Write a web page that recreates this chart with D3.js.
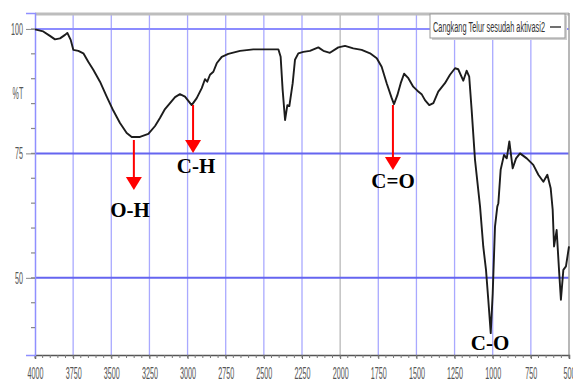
<!DOCTYPE html>
<html><head><meta charset="utf-8">
<script src="https://cdn.jsdelivr.net/npm/d3@7/dist/d3.min.js"></script>
<style>
html,body{margin:0;padding:0;background:#fff;}
svg{display:block;}
.tick-lab{font-family:"Liberation Sans",Arial,sans-serif;fill:#555;}
.ann{font-family:"Liberation Serif","Times New Roman",serif;font-weight:bold;fill:#000;}
</style></head>
<body>
<svg id="c" width="573" height="385"></svg>
<script>
// ---- data ----
const seriesName = "Cangkang Telur sesudah aktivasi2";
const wavenumber = [4000,3946,3902,3869,3836,3803,3788,3766,3749,3716,3683,3651,3618,3574,3530,3487,3443,3399,3366,3312,3257,3213,3181,3148,3082,3050,3017,2973,2940,2907,2886,2871,2853,2831,2809,2776,2733,2656,2569,2481,2405,2390,2377,2361,2346,2333,2311,2296,2274,2241,2198,2143,2110,2067,2012,1968,1914,1859,1804,1760,1728,1695,1662,1647,1625,1603,1581,1553,1521,1494,1466,1444,1416,1389,1357,1313,1280,1247,1226,1193,1171,1154,1138,1116,1083,1062,1044,1029,1013,1000,985,970,963,948,926,908,891,869,847,821,777,734,701,668,642,620,607,598,581,564,553,537,520,500];
const transmittance = [99.9,99.5,98.6,97.9,98.1,98.8,99.2,97.8,95.8,95.6,95.1,93.4,91.8,89.4,86.4,83.6,81.1,79.1,78.3,78.3,78.9,80.5,82.1,83.9,86.3,86.9,86.4,84.7,86.1,88.1,89.9,89.4,90.8,91.4,93.1,94.4,95.0,95.6,95.9,95.9,95.9,94.4,87.8,81.7,84.7,84.5,89.1,93.8,95.1,95.4,95.6,96.3,95.6,95.2,96.3,96.6,96.1,95.8,95.1,94.1,92.4,89.1,86.1,84.9,86.7,89.1,91.0,90.1,88.4,87.6,86.9,85.7,84.7,85.1,87.4,89.1,90.8,92.1,91.9,89.6,91.6,90.4,83.7,73.7,64.3,56.3,51.6,45.6,38.9,46.9,60.3,64.3,65.0,71.7,74.7,74.0,77.4,72.0,74.0,75.0,74.0,72.7,70.7,69.3,70.7,68.0,63.7,56.3,59.6,50.9,45.6,51.6,52.3,56.3];
const xTickValues = [4000,3750,3500,3250,3000,2750,2500,2250,2000,1750,1500,1250,1000,750,500];
const yTickValues = [100,75,50];
const annLabels = ["O-H","C-H","C=O","C-O"];
const annWavenumbers = [3352,2964,1654,1013];

// ---- layout ----
const svg = d3.select("#c");
const L = 35, R = 569, T = 13, B = 355;
const SX = 0.45;
const x = d3.scaleLinear().domain([4000,500]).range([L,R]);
const y = d3.scaleLinear().domain([34.5,103.2]).range([B,T]);

// vertical grid
svg.append("g").selectAll("line").data(xTickValues.filter(v=>v!==4000 && v!==500)).join("line")
  .attr("x1",d=>x(d)).attr("x2",d=>x(d)).attr("y1",T).attr("y2",B)
  .attr("stroke",d=>d===2000?"#b8b8b8":"#a9a9ff").attr("stroke-width",1.3);
// horizontal grid
svg.append("g").selectAll("line").data(yTickValues).join("line")
  .attr("x1",L).attr("x2",R).attr("y1",d=>y(d)).attr("y2",d=>y(d))
  .attr("stroke",d=>d===100?"#8c8cff":"#6565f0").attr("stroke-width",2);

// frame: top band, right edge
svg.append("line").attr("x1",L).attr("x2",R).attr("y1",T+1).attr("y2",T+1).attr("stroke","#bdbdbd").attr("stroke-width",3);
svg.append("line").attr("x1",R).attr("x2",R).attr("y1",T).attr("y2",B).attr("stroke","#a0a0a0").attr("stroke-width",1.5);

// x axis
const xAxis = d3.axisBottom(x).tickValues(xTickValues).tickSize(4).tickFormat(d3.format("d"));
const gx = svg.append("g").attr("transform",`translate(0,${B})`).call(xAxis);
gx.select(".domain").attr("stroke","#555").attr("stroke-width",1.5);
gx.selectAll(".tick line").attr("stroke","#666");
gx.selectAll(".tick text").attr("class","tick-lab").attr("font-size",16)
  .attr("y",0).attr("dy",0).attr("transform",`translate(0,24) scale(${SX},1)`);
const xMinor = d3.range(4000,499,-50);
svg.append("g").selectAll("line").data(xMinor).join("line")
  .attr("x1",d=>x(d)).attr("x2",d=>x(d)).attr("y1",B).attr("y2",B+3).attr("stroke","#777").attr("stroke-width",1);

// y axis
const yAxis = d3.axisLeft(y).tickValues(yTickValues).tickSize(9).tickFormat(d3.format("d"));
const gy = svg.append("g").attr("transform",`translate(${L},0)`).call(yAxis);
gy.select(".domain").attr("stroke","#8f8fff").attr("stroke-width",1.5);
gy.selectAll(".tick line").attr("stroke","#888");
gy.selectAll(".tick text").attr("class","tick-lab").attr("font-size",16)
  .attr("x",0).attr("dy","0.35em").attr("transform",`translate(-12,0) scale(${SX},1)`);
const yMinor = d3.range(40,101,5);
svg.append("g").selectAll("line").data(yMinor).join("line")
  .attr("x1",L-4).attr("x2",L).attr("y1",d=>y(d)).attr("y2",d=>y(d)).attr("stroke","#888").attr("stroke-width",1.2);
svg.append("text").attr("class","tick-lab").attr("font-size",16).attr("text-anchor","middle")
  .attr("transform",`translate(18,99) scale(${SX},1)`).text("%T");

// spectrum
const pts = wavenumber.map((w,i)=>[w,transmittance[i]]);
svg.append("path").datum(pts)
  .attr("fill","none").attr("stroke","#1c1c1c").attr("stroke-width",1.9).attr("stroke-linejoin","round")
  .attr("d",d3.line().x(d=>x(d[0])).y(d=>y(d[1])));

// legend
const lg = svg.append("g");
lg.append("rect").attr("x",432).attr("y",16).attr("width",135).attr("height",24).attr("fill","#cfcfcf");
lg.append("rect").attr("x",430).attr("y",14).attr("width",135).attr("height",24).attr("fill","#fff").attr("stroke","#999");
lg.append("text").attr("class","tick-lab").attr("x",433).attr("y",32).attr("font-size",14)
  .style("fill","#333").attr("textLength",112).attr("lengthAdjust","spacingAndGlyphs").text(seriesName);
lg.append("line").attr("x1",550).attr("x2",561).attr("y1",27).attr("y2",27).attr("stroke","#222").attr("stroke-width",1.3);

// annotations
const arrowSpec = [
  {top:140, tip:190, tx:130, ty:217},
  {top:105, tip:153, tx:196, ty:173},
  {top:105, tip:170, tx:393, ty:188},
  {top:null, tip:null, tx:490, ty:350}
];
const ag = svg.append("g");
annLabels.forEach((lab,i)=>{
  const s = arrowSpec[i];
  const ax = x(annWavenumbers[i]);
  if(s.top!==null){
    ag.append("line").attr("x1",ax).attr("x2",ax).attr("y1",s.top).attr("y2",s.tip-12)
      .attr("stroke","#ff0000").attr("stroke-width",2);
    ag.append("path").attr("d",`M${ax-8},${s.tip-13}L${ax+8},${s.tip-13}L${ax},${s.tip}Z`).attr("fill","#ff0000");
  }
  ag.append("text").attr("class","ann").attr("x",s.tx).attr("y",s.ty).attr("text-anchor","middle")
    .attr("font-size",21).text(lab);
});
</script>
</body></html>
